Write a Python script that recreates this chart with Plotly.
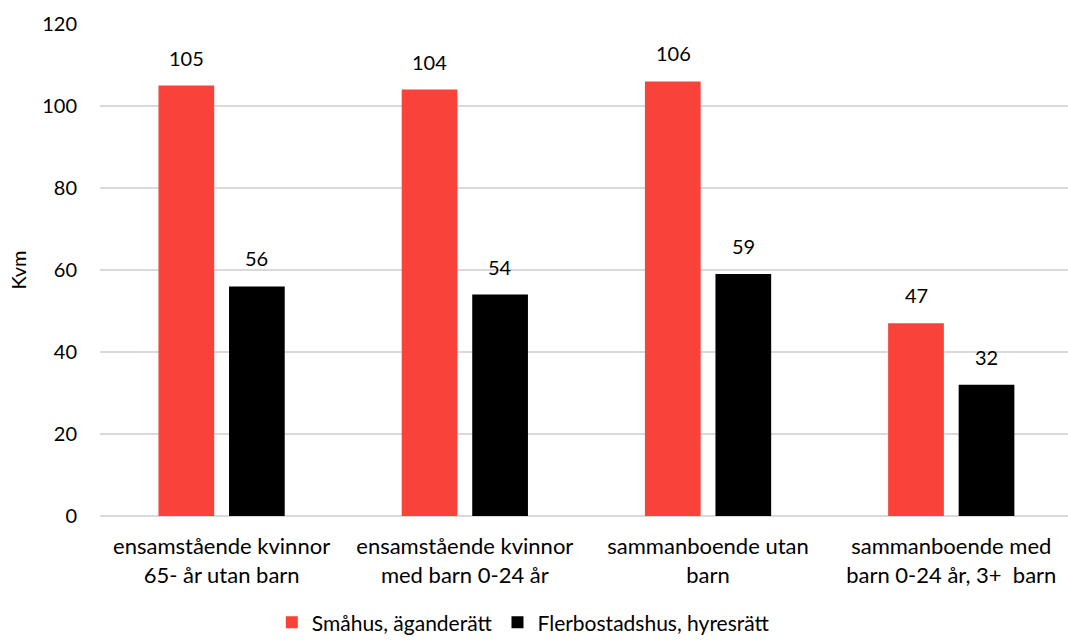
import plotly.graph_objects as go

categories = [
    "ensamstående kvinnor<br>65- år utan barn",
    "ensamstående kvinnor<br>med barn 0-24 år",
    "sammanboende utan<br>barn",
    "sammanboende med<br>barn 0-24 år, 3+  barn",
]
smahus = [105, 104, 106, 47]
flerbostad = [56, 54, 59, 32]
series_names = ["Småhus, äganderätt", "Flerbostadshus, hyresrätt"]
y_ticks = [0, 20, 40, 60, 80, 100, 120]

RED = "#F9423A"
BLACK = "#000000"
FONT = "Lato, 'Open Sans', sans-serif"

fig = go.Figure()
fig.add_trace(go.Bar(x=categories, y=smahus, name=series_names[0],
                     marker=dict(color=RED, line=dict(width=0))))
fig.add_trace(go.Bar(x=categories, y=flerbostad, name=series_names[1],
                     marker=dict(color=BLACK, line=dict(width=0))))

# value labels above each bar, offset to sit over its half of the group
for values, xshift in ((smahus, -35), (flerbostad, 35)):
    for cat, v in zip(categories, values):
        fig.add_annotation(x=cat, y=v, text=str(v), showarrow=False,
                           xshift=xshift, yshift=14, yanchor="bottom",
                           font=dict(size=20, color="#000"))

fig.update_layout(
    width=1068, height=640,
    margin=dict(l=100, r=0, t=24, b=124),
    paper_bgcolor="white", plot_bgcolor="white",
    font=dict(family=FONT, size=20, color="#000"),
    barmode="group", bargap=0.42, bargroupgap=0.21,
    showlegend=True,
    legend=dict(orientation="h", x=0.49, xanchor="center", xref="container",
                y=0.027, yanchor="middle", yref="container",
                font=dict(size=21), itemwidth=30, traceorder="normal"),
    xaxis=dict(showgrid=False, showline=False, ticks="", tickfont=dict(size=22),
               range=[-0.5, 3.48], ticklabelstandoff=15),
    yaxis=dict(range=[0, 120], tickvals=y_ticks, showgrid=True, gridcolor="#D9D9D9",
               gridwidth=1.5, zeroline=True, zerolinecolor="#D9D9D9", zerolinewidth=1.5,
               ticks="", ticklabelstandoff=22, tickfont=dict(size=20),
               title=dict(text="Kvm", font=dict(size=20), standoff=10)),
)

fig.write_html("out.html")
